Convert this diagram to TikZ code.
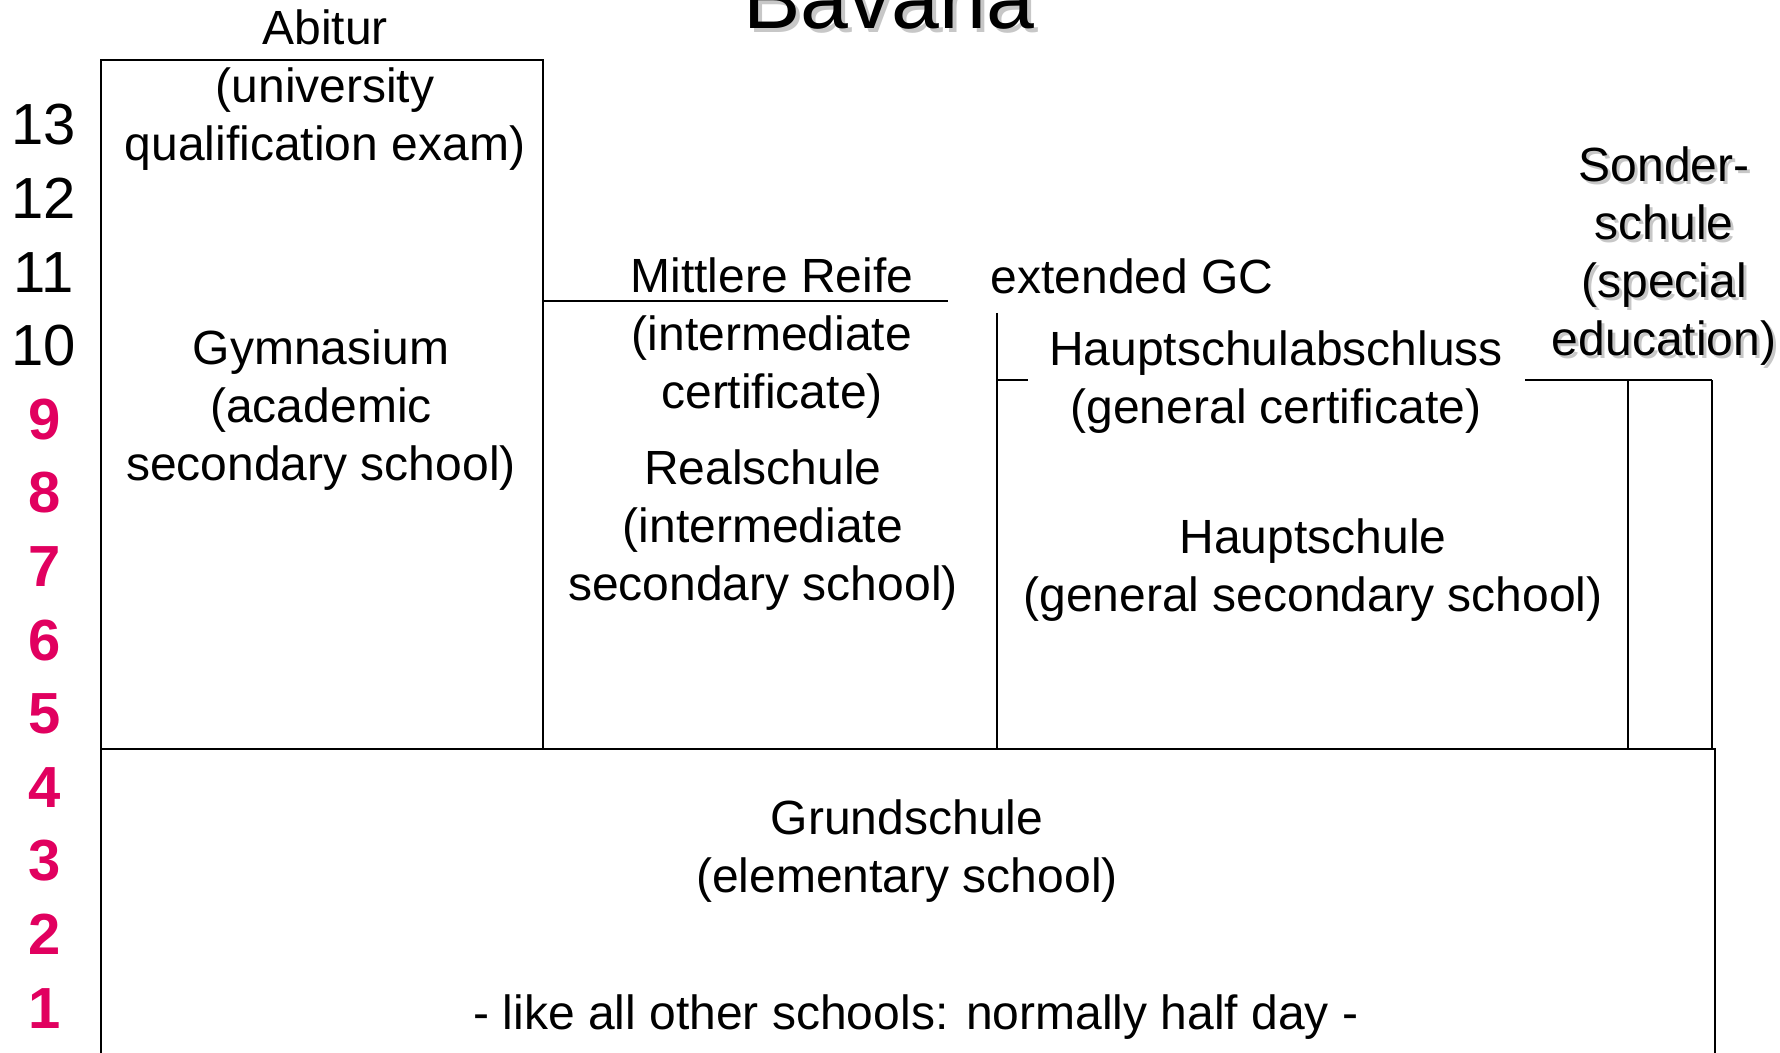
\documentclass[tikz,border=0pt]{standalone}
\usepackage{fontspec}
\setmainfont{Liberation Sans}
\usetikzlibrary{positioning}
\definecolor{gradepink}{RGB}{225,0,95}
\tikzstyle{schooltext} = [align=center, inner sep=0pt, font=\fontsize{24}{29}\selectfont]
\tikzstyle{gradeno} = [inner sep=0pt, font=\fontsize{29}{29}\selectfont]
\tikzstyle{lowgrade} = [inner sep=0pt, text=gradepink, font=\fontsize{29}{29}\selectfont\bfseries]

\begin{document}
\begin{tikzpicture}[x=0.5pt, y=-0.5pt, line width=1pt]
        \tikzstyle{titletext} = [inner sep=0pt, anchor=base, font=\fontsize{43}{43}\selectfont]
        \tikzstyle{shadow} = [text=black!22]
        \useasboundingbox (0,0) rectangle (1780,1053);

        % title, cut at the top
        \node[titletext, shadow] (titleShadow) at (893,33) {Bavaria};
        \node[titletext] (title) at (889,29) {Bavaria};

        % school blocks
        \draw (101,60) rectangle (543,749);
        \draw (101,749) rectangle (1715,1090);
        \draw (543,301) -- (948,301);
        \draw (997,313) -- (997,749);
        \draw (997,380) -- (1028,380);
        \draw (1525,380) -- (1712,380);
        \draw (1628,380) -- (1628,749);
        \draw (1712,380) -- (1712,749);

        % grades
        \foreach \g in {10,...,13}
            \node[gradeno] (grade\g) at (44,{125+(13-\g)*73.6}) {\g};
        \foreach \g in {1,...,9}
            \node[lowgrade] (grade\g) at (45,{125+(13-\g)*73.6}) {\g};

        \node[schooltext] (abitur) at (325,90) {Abitur\\(university\\qualification exam)};
        \node[schooltext] (gymnasium) at (321,410) {Gymnasium\\(academic\\secondary school)};
        \node[schooltext] (mittlere) at (772,338) {Mittlere Reife\\(intermediate\\certificate)};
        \node[schooltext] (realschule) at (763,530) {Realschule\\(intermediate\\secondary school)};
        \node[schooltext] (extended) at (1132,276) {extended GC};
        \node[schooltext] (abschluss) at (1276,382) {Hauptschulabschluss\\(general certificate)};
        \node[schooltext] (hauptschule) at (1313,570) {Hauptschule\\(general secondary school)};
        \node[schooltext, shadow] (sonderShadow) at (1667,259) {Sonder-\\schule\\(special\\education)};
        \node[schooltext] (sonder) at (1664,256) {Sonder-\\schule\\(special\\education)};
        \node[schooltext] (grundschule) at (907,851) {Grundschule\\(elementary school)};
        \node[schooltext] (halfday) at (916,1017) {- like all other schools: normally half day -};

    \end{tikzpicture}
\end{document}
